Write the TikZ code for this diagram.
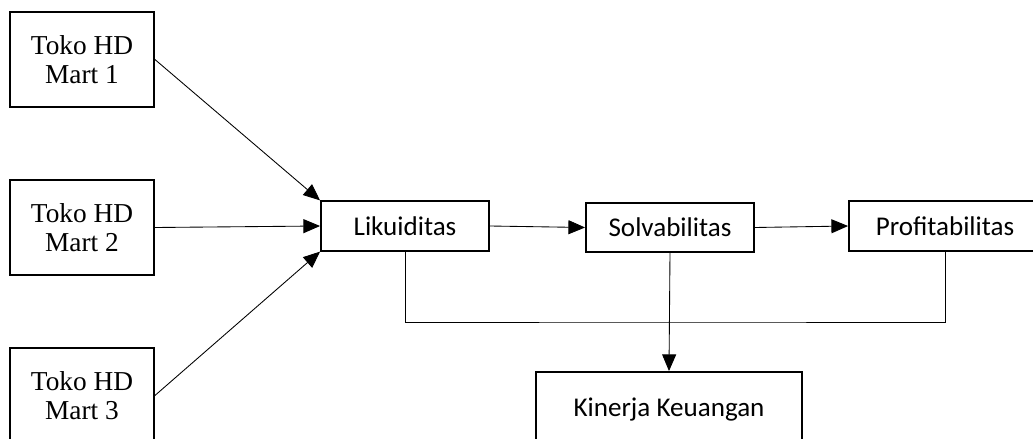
\documentclass[tikz,border=0pt]{standalone}
\usepackage{fontspec}
\setmainfont{Liberation Serif}
\newfontfamily\calibri{Carlito}
\usetikzlibrary{arrows.meta}
\tikzset{
	toko/.style={draw, line width=1.4pt, minimum width=108pt, minimum height=71.25pt, align=center, font=\fontsize{20.5}{21.75}\selectfont},
	rasio/.style={draw, line width=1.4pt, minimum height=37pt, inner sep=0pt, font=\calibri\fontsize{20.3}{22}\selectfont},
	panah/.style={-{Triangle[length=12.5pt,width=10.5pt]}, line width=0.65pt}
}
\begin{document}
\begin{tikzpicture}[x=0.75pt, y=-0.75pt]
			\useasboundingbox (0,0) rectangle (1033,439);
			\clip (0,0) rectangle (1033,439);
			\foreach \i/\y in {1/59.5, 2/227.5, 3/395.5}
			\node[toko] (mart\i) at (82,\y) {Toko HD\\Mart \i};
			\node[rasio, minimum width=126pt] (lik) at (405,226) {Likuiditas};
			\node[rasio, minimum width=126pt] (sol) at (670,227.5) {Solvabilitas};
			\node[rasio, minimum width=144pt] (pro) at (945,226) {Profitabilitas};
			\node[rasio, minimum width=199.5pt, minimum height=57pt] (kin) at (669,410) {Kinerja Keuangan};
			\coordinate (bus) at (670,322);
			\draw[panah] (mart1.east) -- (lik.north west);
			\draw[panah] (mart2.east) -- (lik.west);
			\draw[panah] (mart3.east) -- (lik.south west);
			\draw[panah] (lik.east) -- (sol.west);
			\draw[panah] (sol.east) -- (pro.west);
			\draw[line width=0.65pt] (lik.south) |- (bus) -| (pro.south);
			\draw[panah] (sol.south) -- (kin.north);
		\end{tikzpicture}
\end{document}
